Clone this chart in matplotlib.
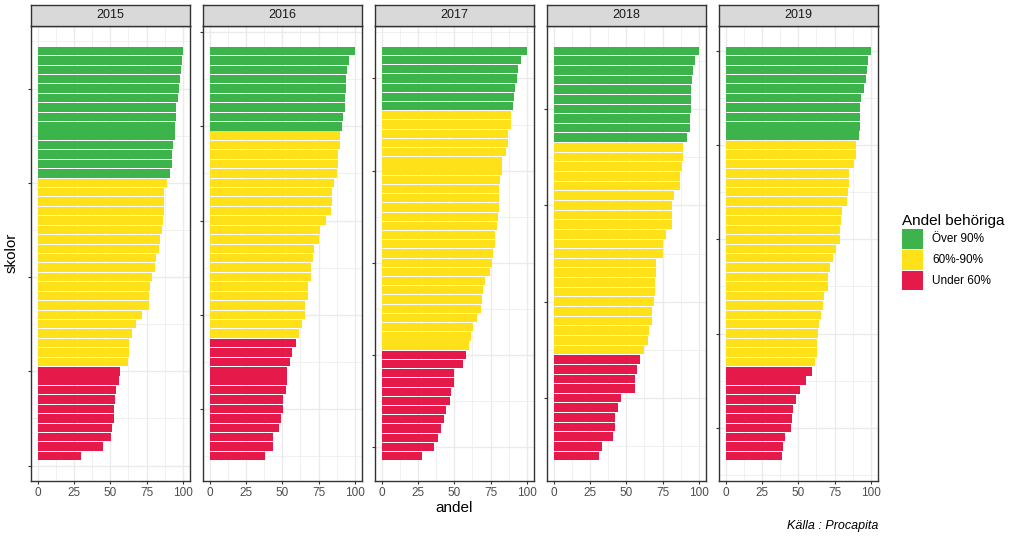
import matplotlib
matplotlib.use("Agg")
import matplotlib.pyplot as plt
from matplotlib.patches import Patch
import numpy as np

plt.rcParams['font.family'] = ['Liberation Sans', 'DejaVu Sans']

years = ["2015", "2016", "2017", "2018", "2019"]

# andel per skola, sorted from highest to lowest in each year
y2015 = [100, 99.8, 99.1, 97.9, 97.2, 96.5, 95.6, 95.6, 94.9, 94.9, 93.1, 92.4, 92.4, 91.0,
         89.3, 87.4, 87.4, 87.0, 86.1, 85.4, 84.0, 83.3, 81.5, 80.8, 78.5, 77.4, 76.9, 76.9,
         71.9, 67.5, 65.0, 62.7, 62.7, 62.5,
         56.8, 55.7, 53.8, 53.1, 52.7, 52.5, 51.1, 50.4, 44.9, 30.1]
y2016 = [100, 95.7, 94.7, 94.3, 94.1, 93.6, 93.1, 92.0, 91.5,
         89.9, 89.7, 88.3, 88.3, 87.9, 85.8, 84.4, 84.2, 83.8, 80.1, 76.0, 75.5, 71.6, 71.2,
         69.6, 69.6, 68.0, 67.5, 65.7, 65.4, 63.8, 61.8,
         59.5, 57.0, 55.1, 53.1, 53.1, 52.4, 50.8, 50.3, 49.4, 48.1, 43.7, 43.7, 38.2]
y2017 = [100, 96.1, 94.1, 93.2, 92.0, 91.5, 90.2,
         89.0, 88.8, 87.4, 87.4, 85.4, 83.1, 82.8, 81.7, 81.2, 81.0, 80.8, 80.5, 79.6, 78.3,
         78.0, 76.9, 76.0, 74.6, 71.2, 69.8, 69.3, 68.6, 65.4, 62.7, 61.6, 60.4,
         57.9, 56.3, 50.1, 50.1, 47.6, 47.1, 44.2, 42.6, 41.2, 39.1, 36.2, 27.7]
y2018 = [100, 97.5, 96.3, 95.6, 94.7, 94.5, 94.5, 94.2, 94.2, 92.2,
         89.4, 89.4, 88.7, 87.3, 87.3, 82.9, 81.6, 81.6, 81.3, 77.4, 75.1, 75.1, 70.5, 70.3,
         70.0, 69.6, 69.1, 67.5, 67.5, 65.4, 65.2, 62.0,
         59.7, 57.1, 56.0, 56.0, 46.5, 44.2, 42.4, 42.4, 41.2, 33.4, 30.9]
y2019 = [100, 98.2, 97.2, 96.8, 95.6, 93.5, 92.6, 92.6, 92.6, 92.2,
         89.8, 89.5, 88.5, 85.3, 85.3, 84.1, 83.9, 80.0, 79.5, 78.8, 78.8, 76.0, 74.2, 71.9,
         70.5, 70.3, 67.7, 66.8, 65.7, 64.3, 63.6, 63.1, 62.9, 61.3,
         59.6, 55.3, 51.2, 48.6, 46.5, 45.6, 44.9, 40.8, 39.6, 38.7]
andel = [y2015, y2016, y2017, y2018, y2019]

kat_labels = ["Över 90%", "60%-90%", "Under 60%"]
kat_colors = ["#3cb44b", "#ffe119", "#e6194b"]

def kategori(v):
    if v >= 90:
        return 0
    if v >= 60:
        return 1
    return 2

W, H = 1024, 540
fig = plt.figure(figsize=(W / 100, H / 100), dpi=100)

grid_col = "#EBEBEB"
dark = "#333333"
pw, gap = 159.5, 12.5
ptop, pbot = 26, 481
stop = 4.5

start = 1
for i, yr in enumerate(years):
    vals = andel[i]
    n = len(vals)
    ranks = np.arange(start + n - 1, start - 1, -1)
    cols = [kat_colors[kategori(v)] for v in vals]

    left = 30.5 + i * (pw + gap)
    ax = fig.add_axes([left / W, (H - pbot) / H, pw / W, (pbot - ptop) / H])
    ax.barh(ranks, vals, height=0.9, color=cols, zorder=3)

    lo, hi = start - 0.45, start + n - 1 + 0.45
    ex = (hi - lo) * 0.05
    y0, y1 = lo - ex, hi + ex

    ax.set_xticks([0, 25, 50, 75, 100])
    ax.set_xticks([12.5, 37.5, 62.5, 87.5], minor=True)
    yt = np.arange(np.ceil(y0 / 10) * 10, y1, 10)
    ym = np.arange(np.ceil((y0 - 5) / 10) * 10 + 5, y1, 10)
    ax.set_yticks(yt)
    ax.set_yticks(ym, minor=True)
    ax.set_yticklabels([])
    ax.set_ylim(y0, y1)
    ax.set_xlim(-5, 105)

    ax.grid(which="major", color=grid_col, lw=1.0, zorder=0)
    ax.grid(which="minor", color=grid_col, lw=0.5, zorder=0)
    ax.set_axisbelow(True)
    ax.tick_params(which="major", length=2.5, width=0.8, color=dark,
                   labelsize=8.5, labelcolor="#4D4D4D", pad=2)
    ax.tick_params(which="minor", length=0)
    for s in ax.spines.values():
        s.set_color(dark)
        s.set_linewidth(1.0)

    sax = fig.add_axes([left / W, (H - ptop) / H, pw / W, (ptop - stop) / H])
    sax.set_facecolor("#D9D9D9")
    sax.set_xticks([])
    sax.set_yticks([])
    for s in sax.spines.values():
        s.set_color(dark)
        s.set_linewidth(1.0)
    sax.text(0.5, 0.5, yr, ha="center", va="center", fontsize=9, color="#1A1A1A",
             transform=sax.transAxes)

    start += n

fig.text(454 / W, 1 - 508 / H, "andel", ha="center", va="center", fontsize=11)
fig.text(12 / W, 1 - 253 / H, "skolor", ha="center", va="center", fontsize=11, rotation=90)
fig.text(878 / W, 1 - 526 / H, "Källa : Procapita", ha="right", va="center",
         fontsize=9, style="italic")

handles = [Patch(facecolor=c, edgecolor="none") for c in kat_colors]
fig.legend(handles, kat_labels, loc="upper left", bbox_to_anchor=(891 / W, 1 - 203 / H),
           frameon=False, fontsize=8.5, title="Andel behöriga", title_fontsize=11,
           handlelength=1.8, handleheight=2.2, labelspacing=0.1, handletextpad=0.8,
           alignment="left")

fig.savefig("out.png", dpi=100)
